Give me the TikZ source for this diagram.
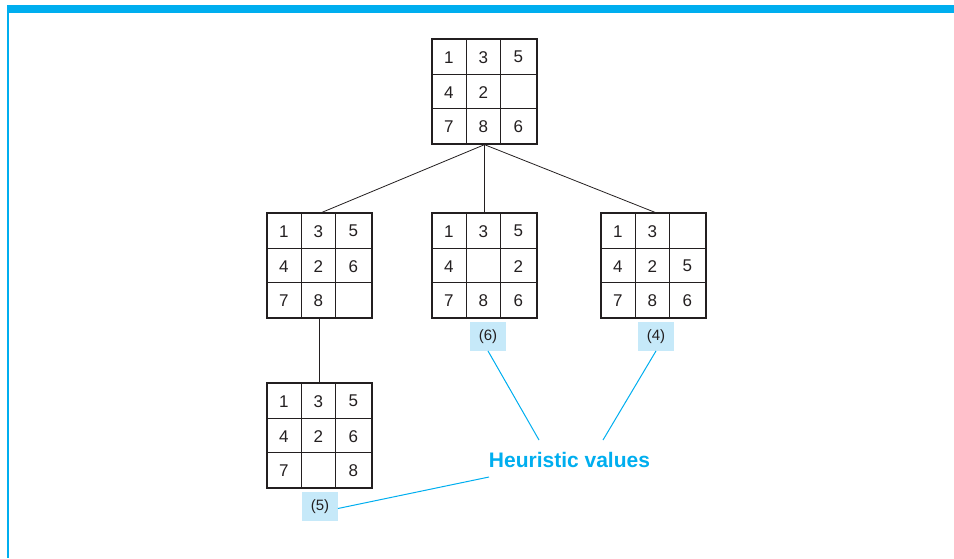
\documentclass[tikz,border=0pt]{standalone}
\usepackage{fontspec}
\setmainfont{Liberation Sans}
\usetikzlibrary{calc}
\definecolor{cyanbar}{HTML}{00AEEF}
\definecolor{lightblue}{HTML}{C6E9F9}
\definecolor{ink}{HTML}{231F20}
\tikzset{
  board/.style={draw=ink, line width=1.3pt, rectangle, minimum width=105pt, minimum height=105pt, inner sep=0pt},
  gridline/.style={draw=ink, line width=1.3pt},
  num/.style={text=ink, font=\fontsize{17}{19}\selectfont, inner sep=0pt},
  hlabel/.style={fill=lightblue, text=ink, minimum width=35.5pt, minimum height=28.5pt, inner sep=0pt, font=\fontsize{15}{17}\selectfont},
  tree/.style={draw=ink, line width=0.8pt},
  hline/.style={draw=cyanbar, line width=1pt},
}
\newcommand\puzzle[4]{%
  \node[board] (#1) at (#2,#3) {};
  \draw[gridline] ($(#1.north west)+(35,0)$) -- ($(#1.south west)+(35,0)$);
  \draw[gridline] ($(#1.north west)+(69,0)$) -- ($(#1.south west)+(69,0)$);
  \draw[gridline] ($(#1.north west)+(0,36)$) -- ($(#1.north east)+(0,36)$);
  \draw[gridline] ($(#1.north west)+(0,70)$) -- ($(#1.north east)+(0,70)$);
  \foreach \v [count=\i from 0] in {#4} {
    \pgfmathtruncatemacro\rr{int(\i/3)}
    \pgfmathtruncatemacro\cc{mod(\i,3)}
    \pgfmathsetmacro\xx{{17.5,52,87}[\cc]}
    \pgfmathsetmacro\yy{{18.8,53.8,88.3}[\rr]}
    \node[num] (#1-\i) at ($(#1.north west)+(\xx,\yy)$) {\v};
  }
}
\begin{document}
\begin{tikzpicture}[x=1pt,y=-1pt]
\useasboundingbox (0,0) rectangle (954,558);
% frame
\fill[cyanbar] (7,5) rectangle (954,12.5);
\draw[cyanbar, line width=1.6pt] (7.8,5) -- (7.8,558);
% puzzles
\puzzle{top}{484.5}{91.5}{1,3,5,4,2,{},7,8,6}
\puzzle{left}{319.5}{265.5}{1,3,5,4,2,6,7,8,{}}
\puzzle{mid}{484.5}{265.5}{1,3,5,4,{},2,7,8,6}
\puzzle{right}{653.5}{265.5}{1,3,{},4,2,5,7,8,6}
\puzzle{bottom}{319.5}{435.5}{1,3,5,4,2,6,7,{},8}
% tree edges
\draw[tree] (top.south) -- ($(left.north)+(2.5,0)$);
\draw[tree] (top.south) -- (mid.north);
\draw[tree] (top.south) -- ($(right.north)+(1.5,0)$);
\draw[tree] (left.south) -- (bottom.north);
% heuristic labels
\node[hlabel] (h6) at (488,336.5) {(6)};
\node[hlabel] (h4) at (656,336.5) {(4)};
\node[hlabel] (h5) at (320,506.5) {(5)};
\node[text=cyanbar, font=\fontsize{21}{24}\selectfont\bfseries, inner sep=0pt] (hv) at (569.5,460) {Heuristic values};
\coordinate (e6) at (539,440);
\coordinate (e4) at (603,440);
\coordinate (e5) at (489,477);
\draw[hline] (h6.south) -- (e6);
\draw[hline] (h4.south) -- (e4);
\draw[hline] ($(h5.east)+(0,2)$) -- (e5);
\end{tikzpicture}
\end{document}
